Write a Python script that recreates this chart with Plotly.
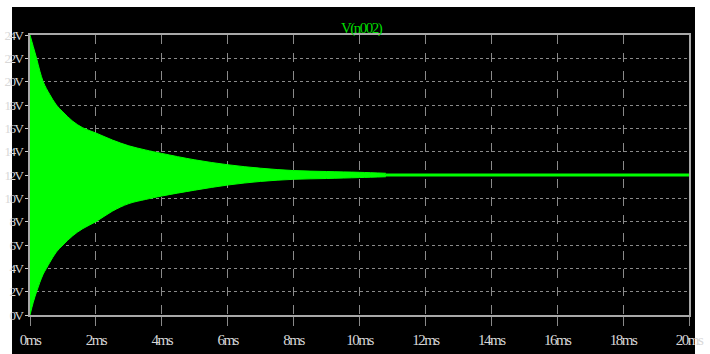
import plotly.graph_objects as go

# Transient response of node n002: envelope of the decaying ringing (ms, V)
t_ms = [0, 0.1, 0.2, 0.3, 0.4, 0.5, 0.6, 0.8, 1.0, 1.3, 1.6, 2.0, 2.5, 3.0,
        3.5, 4.0, 5.0, 6.0, 7.0, 8.0, 9.0, 10.0, 10.8]
v_upper = [24.0, 23.0, 22.0, 20.9, 20.0, 19.4, 18.9, 18.0, 17.4, 16.6, 16.05,
           15.6, 15.0, 14.5, 14.15, 13.85, 13.3, 12.88, 12.58, 12.38, 12.3,
           12.23, 12.15]
v_lower = [0.0, 1.1, 2.0, 2.8, 3.5, 4.0, 4.5, 5.4, 6.0, 6.8, 7.4, 8.0, 8.9,
           9.55, 9.9, 10.2, 10.7, 11.14, 11.45, 11.63, 11.7, 11.78, 11.85]

# Settled output after the ringing dies out
t_settled = [10.8, 20.0]
v_settled = [12.0, 12.0]

x_ticks = list(range(0, 21, 2))
x_labels = [f"{v}ms" for v in x_ticks]
y_ticks = list(range(0, 25, 2))
y_labels = [f"{v}V" for v in y_ticks]


def narrow(text, spacing):
    """Tighten the glyph spacing to mimic the condensed waveform-viewer font."""
    return f'<span style="letter-spacing:{spacing}px">{text}</span>'


GREEN = "#00ff00"
GRID = "#8a8a8a"
FRAME = "#a8a8a8"
FAMILY = "Liberation Serif"

fig = go.Figure()
fig.add_trace(go.Scatter(x=t_ms, y=v_lower, mode="lines",
                         line=dict(color=GREEN, width=1, shape="spline"),
                         hoverinfo="skip", showlegend=False))
fig.add_trace(go.Scatter(x=t_ms, y=v_upper, mode="lines",
                         line=dict(color=GREEN, width=1, shape="spline"),
                         fill="tonexty", fillcolor=GREEN,
                         hoverinfo="skip", showlegend=False))
fig.add_trace(go.Scatter(x=t_settled, y=v_settled, mode="lines",
                         line=dict(color=GREEN, width=3),
                         hoverinfo="skip", showlegend=False))

# Black panel behind the plot, slightly larger than the plotting area
fig.add_shape(type="rect", xref="paper", yref="paper",
              x0=-0.0273, x1=1.0091, y0=-0.14, y1=1.1,
              fillcolor="black", line=dict(width=0), layer="below")

fig.add_annotation(text=narrow("V(n002)", -1.5), xref="paper", yref="paper",
                   x=0.504, y=1.061, showarrow=False,
                   font=dict(family=FAMILY, size=15, color="#00dd00"))

fig.update_xaxes(range=[0, 20], tickvals=x_ticks,
                 ticktext=[narrow(s, -1.5) for s in x_labels],
                 showgrid=True, gridcolor=GRID, griddash="dash", gridwidth=1,
                 showline=True, linecolor=FRAME, linewidth=2, mirror=True,
                 ticks="outside", ticklen=9, tickcolor=GRID,
                 ticklabelstandoff=1,
                 tickfont=dict(family=FAMILY, size=15, color="#d8d8d8"),
                 zeroline=False, automargin=False, fixedrange=True)
fig.update_yaxes(range=[0, 24], tickvals=y_ticks,
                 ticktext=[narrow(s, -1.5) for s in y_labels],
                 showgrid=True, gridcolor=GRID, griddash="dot", gridwidth=1,
                 showline=True, linecolor=FRAME, linewidth=2, mirror=True,
                 ticks="outside", ticklen=3, tickcolor="#d0d0d0",
                 ticklabelstandoff=0,
                 tickfont=dict(family=FAMILY, size=13, color="#d8d8d8"),
                 zeroline=False, automargin=False, fixedrange=True)

fig.update_layout(width=710, height=354,
                  margin=dict(l=30, r=21, t=35, b=39),
                  paper_bgcolor="white", plot_bgcolor="black")

fig.write_html("out.html")
